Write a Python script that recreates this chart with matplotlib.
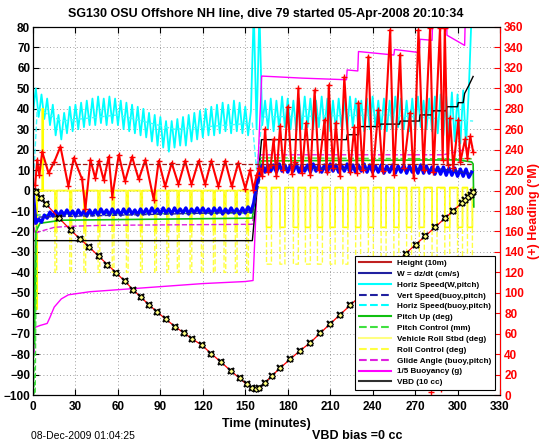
import numpy as np
import matplotlib.pyplot as plt
from matplotlib.lines import Line2D

plt.rcParams['font.family'] = ['Liberation Sans', 'DejaVu Sans']
plt.rcParams['font.weight'] = 'bold'

# depth (height, 10 m units) at the marker samples
depth_t = [0, 1.8, 5.3, 9.5, 18.3, 26.9, 33, 39.8, 46.4, 52.6, 58.8, 65, 70.7,
           76.4, 82, 87.4, 94, 100.5, 106.7, 112.6, 119.3, 126, 133, 140, 146,
           151, 155, 157.5, 160, 163.9, 169, 174.6, 181.7, 188.7, 195.8, 203,
           210, 217, 224, 231, 238, 245, 252, 258, 263.3, 270.3, 277.3, 284.3,
           291.3, 297.1, 302.9, 305.5, 307.6, 309.5, 311]
depth_v = [0, -0.6, -3.6, -6.8, -13.4, -19.5, -23.5, -27.7, -32.1, -36.2, -40.3,
           -44.4, -48.5, -52.3, -55.9, -59.2, -63, -66.6, -69.7, -72.6, -75.6,
           -79.8, -84, -88.3, -91.8, -94.8, -96.6, -97.2, -96.6, -94, -90.5,
           -86.8, -82.5, -78.3, -74.5, -69.7, -65.2, -60.7, -56.2, -51.7, -47.2,
           -42.7, -38.2, -34.4, -30.8, -26.5, -22.2, -17.8, -13.4, -9.8, -6.1,
           -4.5, -3.2, -2, -0.8]

# noisy series sampled every 2 minutes
t2 = np.arange(0, 312, 2)
hspd = [38, 50, 36, 47, 35, 45, 32, 42, 27, 37, 25, 38, 28, 41, 29, 42, 30, 43,
        31, 44, 32, 45, 32, 46, 33, 45, 32, 46, 33, 45, 32, 44, 30, 43, 29, 42,
        28, 41, 27, 40, 26, 38, 24, 37, 22, 36, 21, 34, 19, 34, 21, 35, 22, 36,
        22, 37, 24, 38, 25, 39, 26, 40, 27, 41, 27, 42, 28, 43, 29, 42, 28, 44,
        29, 43, 28, 41, 27, 39,
        88, 30, 88, 32, 44, 30, 45, 29, 44, 30, 46, 31, 45, 30, 44, 29, 45, 30,
        46, 31, 45, 30, 44, 31, 46, 30, 45, 29, 44, 30, 45, 31, 44, 30, 46, 31,
        45, 30, 44, 29, 45, 30, 46, 31, 44, 30, 45, 29, 44, 30, 46, 31, 45, 30,
        44, 29, 45, 30, 46, 31, 44, 30, 45, 29, 46, 28, 47, 27, 46, 26, 48, 24,
        47, 23, 49, 22, 50, 88]
wspd = [0, -16, -14, -15.5, -12, -13.5, -10.5, -12.5, -10, -12.5, -10, -12,
        -9.5, -12, -10, -12.5, -9.5, -12, -10, -12.5,
        -9.5, -12, -9.5, -12, -9, -11.5, -9.5, -12, -9, -11.5, -9.5, -12, -9,
        -11.5, -9, -11.5, -9.5, -12, -9, -11.5,
        -9, -11.5, -8.5, -11, -9, -11.5, -8.5, -11, -9, -11.5, -8.5, -11, -9,
        -11, -8.5, -11.5, -9, -11, -8.5, -11,
        -8.5, -11, -9, -11.5, -8.5, -11, -8.5, -11.5, -9, -11, -8.5, -11, -9,
        -11.5, -8.5, -11, -8, -10.5,
        -6, 3, 8, 12.5,
        9, 12.5, 9.5, 12.5, 9, 13, 9.5, 12.5, 9, 12.5, 9.5, 13, 9, 12.5, 9.5,
        12.5, 9, 13, 9.5, 12.5,
        9, 12.5, 9, 13, 9.5, 12.5, 9, 12.5, 9.5, 13, 9, 12.5, 9, 12.5, 9.5, 13,
        9, 12.5, 9, 12,
        9, 12.5, 8.5, 12, 9, 12.5, 8.5, 12, 9, 12.5, 8.5, 12, 9, 12, 8.5, 12.5,
        8.5, 12, 8.5, 11.5,
        8, 11.5, 8, 11.5, 7.5, 11, 7.5, 11, 7, 10.5, 7, 10.5, 6.5, 9]

vspd_t = [0, 2, 155, 162, 290, 311]
vspd_v = [0, -13, -10.5, 11, 10.5, 8]
hspd_b_t = [0, 3, 20, 60, 100, 155, 158, 162, 250, 311]
hspd_b_v = [0, 40, 34, 37, 30, 33, 10, 36, 37, 34]

pitch_t = [0, 0.5, 1, 2, 5, 20, 155, 158, 161, 300, 310, 311, 311.5]
pitch_v = [0, -55, -75, -20, -16, -14.5, -13.5, 2, 14.5, 15, 14, 13, -8]
pctl_t = [0, 0.8, 1.5, 2.5, 20, 155, 158, 161, 311]
pctl_v = [0, -105, -105, -12, -11.5, -11, 5, 16, 15.5]

glide_t = [0, 1, 5, 15, 25, 50, 155, 158, 161, 290, 305, 311]
glide_v = [0, -21, -20, -18, -17.5, -17, -16.5, 0, 17.5, 17.5, 20, 22]

buoy_t = [0, 0.6, 1.2, 5, 10, 12, 15, 20, 25, 40, 70, 100, 120, 150, 155.5,
          161.6, 190, 221.5, 222, 229.5, 230, 255, 255.5, 273, 273.5, 282,
          282.5, 292.4, 292.5, 305, 305.5, 312]
buoy_v = [85, -80, -67, -66, -65, -62, -57, -53, -51, -49.5, -48, -46.5, -45.5,
          -44.5, -44, 56, 55, 54.2, 59, 58.5, 68, 66.3, 69, 67.5, 74, 73.5, 85,
          85, 76, 71, 85, 85]

vbd_t = [0, 155, 161.5, 221.5, 222, 230, 230.5, 245, 245.5, 259, 259.5, 273,
         273.5, 282, 282.5, 292, 292.5, 300, 300.5, 304, 305, 308, 311]
vbd_v = [-24.5, -24.5, 24.9, 24.9, 27.3, 27.3, 31.3, 31.3, 32.5, 32.5, 34, 34,
         37, 37, 39, 39, 41, 41, 43, 43, 47.5, 51.5, 55.8]

# roll pulses (start times, minutes)
roll_desc = [15.5, 26, 36, 46, 56, 66, 76, 86, 94.6, 102, 111, 119, 127.5,
             135, 143, 151]
roll_climb = [165, 174.5, 184, 192.5, 201, 210, 219, 228, 237, 246, 255, 264,
              273, 282, 291, 300, 307]

# heading (deg M), right axis
head_t = [1.5, 3, 4.5, 6.5, 11, 15, 19.4, 25, 28.8, 34.7, 37, 40.6, 44, 46.5,
          50, 53.5, 56, 60.6, 65, 70, 74.7, 79.4, 85.3, 88.8, 93.4, 98, 102.8,
          107.5, 112, 117, 121.6, 126, 131, 135.8, 140.5, 145, 150, 153.4,
          155.8, 158, 160, 162, 164, 166, 168, 170, 172, 174.6, 177, 180, 183,
          185, 187.5, 190, 193, 196, 199, 202, 206, 207.5, 209, 212, 214, 217,
          220, 224, 227, 229, 230, 233, 237, 240, 244, 247, 252.4, 255, 259.4,
          262, 266.5, 269, 272.4, 276, 280.6, 283, 287.6, 289.5, 291, 293,
          294.7, 297, 300.6, 302, 305.3, 307, 309, 311]
head_v = [205, 230, 215, 238, 217, 228, 243, 204, 232, 211, 182, 230, 212, 229,
          210, 233, 194, 235, 209, 233, 211, 230, 191, 229, 204, 227, 206, 229,
          206, 229, 206, 229, 204, 229, 204, 227, 202, 220, 201, 215, 222, 214,
          260, 218, 225, 250, 214, 263, 220, 282, 216, 228, 300, 217, 266, 215,
          298, 220, 269, 218, 303, 222, 266, 214, 311, 218, 262, 217, 286, 220,
          331, 214, 279, 219, 357, 215, 333, 222, 276, 212, 357, 220, 359, 218,
          359, 230, 359, 225, 271, 222, 269, 228, 250, 232, 253, 238]
head_wrap_t = [281, 288.5]
head_wrap_v = [3, 6]
head_want = 226


def pulses(starts, width, top, bottom, t0, t1):
    xs, ys = [t0], [top]
    for s in starts:
        xs += [s, s, s + width, s + width]
        ys += [top, bottom, bottom, top]
    xs.append(t1)
    ys.append(top)
    return xs, ys


fig = plt.figure(figsize=(5.46, 4.42), dpi=100)
ax = fig.add_axes([33 / 546, 47 / 442, 467 / 546, 368 / 442])

ax.plot(t2, hspd, color='cyan', lw=1.3)
ax.plot(hspd_b_t, hspd_b_v, '--', color='#40ffff', lw=1)

# vehicle roll and roll control
rt, rv = pulses(roll_desc, 1.2, 0, -20, 2.4, 155)
rt = [0, 2.4, 2.4, 3, 3, 6.5, 6.5, 7.2, 7.2] + rt
rv = [0, 0, -58, -58, 0, 0, 40, 40, 0] + rv
rt2, rv2 = pulses(roll_climb, 3.5, 1.5, -18, 158, 311)
ax.plot(rt + rt2, rv + rv2, color='yellow', lw=1.2)
ct, cv = pulses(roll_desc, 1.2, 0, -40, 3, 155)
ct2, cv2 = pulses(roll_climb, 3.5, 1, -36, 158, 311)
ax.plot(ct + ct2, cv + cv2, '--', color='#ffff40', lw=1)

ax.plot(buoy_t, buoy_v, color='magenta', lw=1)
ax.plot(glide_t, glide_v, '--', color='#e020e0', lw=1)
ax.plot(vbd_t, vbd_v, color='black', lw=1)
ax.plot(pitch_t, pitch_v, color='#10c010', lw=1.2)
ax.plot(pctl_t, pctl_v, '--', color='#40e040', lw=1)
ax.plot(t2, wspd, color='blue', lw=2.4)
ax.plot(vspd_t, vspd_v, '--', color='#2020a0', lw=1)
ax.plot(depth_t, depth_v, color='red', lw=0.9)
ax.plot(depth_t, depth_v, 'x', ms=5, mec='black', mew=1.6)
ax.plot(depth_t, depth_v, 'D', ms=3, mfc='#ffff80', mec='black', mew=0.8)

ax.set_xlim(0, 330)
ax.set_ylim(-100, 80)
ax.set_xticks(range(0, 331, 30))
ax.set_yticks(range(-100, 81, 10))
ax.tick_params(direction='in', top=True, length=4, labelsize=8.5, pad=2)
ax.tick_params(axis='x', pad=4.5)
ax.grid(True, color='#808080', lw=0.6, linestyle=(0, (1, 3)))

ax2 = ax.twinx()
ax2.plot(head_t, head_v, color='red', lw=1.5, marker='+', ms=4, mew=1)
ax2.plot(head_wrap_t, head_wrap_v, '+', color='red', ms=4, mew=1)
ax2.plot([2, 311], [head_want, head_want], '--', color='#a01818', lw=0.9)
ax2.set_ylim(0, 360)
ax2.set_yticks(range(0, 361, 20))
ax2.tick_params(direction='in', length=4, colors='red', labelsize=8.5, pad=3)
ax2.spines['right'].set_color('red')

fig.text(266 / 546, 1 - 14 / 442,
         'SG130 OSU Offshore NH line, dive 79 started 05-Apr-2008 20:10:34',
         ha='center', va='center', fontsize=9)
fig.text(266 / 546, 1 - 424 / 442, 'Time (minutes)', ha='center', va='center',
         fontsize=9)
fig.text(534 / 546, 1 - 211 / 442, '(+) Heading (°M)', color='red',
         rotation=90, ha='center', va='center', fontsize=9)
fig.text(31 / 546, 1 - 436 / 442, '08-Dec-2009 01:04:25', fontweight='normal',
         ha='left', va='center', fontsize=7.5)
fig.text(312 / 546, 1 - 436 / 442, 'VBD bias =0 cc', ha='left', va='center',
         fontsize=9)

handles = [Line2D([], [], color='#c02020'), Line2D([], [], color='#2020a0'),
           Line2D([], [], color='cyan'), Line2D([], [], color='#2020a0', ls='--'),
           Line2D([], [], color='cyan', ls='--'), Line2D([], [], color='#10c010'),
           Line2D([], [], color='#40e040', ls='--'),
           Line2D([], [], color='#ffff80', lw=1.5),
           Line2D([], [], color='#ffff40', ls='--'),
           Line2D([], [], color='#e020e0', ls='--'),
           Line2D([], [], color='magenta'), Line2D([], [], color='#303030')]
labels = ['Height (10m)', 'W = dz/dt (cm/s)', 'Horiz Speed(W,pitch)',
          'Vert Speed(buoy,pitch)', 'Horiz Speed(buoy,pitch)',
          'Pitch Up (deg)', 'Pitch Control (mm)', 'Vehicle Roll Stbd (deg)',
          'Roll Control (deg)', 'Glide Angle (buoy,pitch)',
          '1/5 Buoyancy (g)', 'VBD (10 cc)']
leg = fig.legend(handles, labels, loc='lower left',
                 bbox_to_anchor=(355 / 546, 1 - 390 / 442), borderaxespad=0,
                 prop={'size': 5.9, 'weight': 'bold'}, fancybox=False,
                 edgecolor='black', framealpha=1, labelspacing=0.38,
                 handlelength=4.0, handletextpad=0.7, borderpad=0.45)
leg.get_frame().set_linewidth(0.8)

fig.savefig('out.png', dpi=100)
